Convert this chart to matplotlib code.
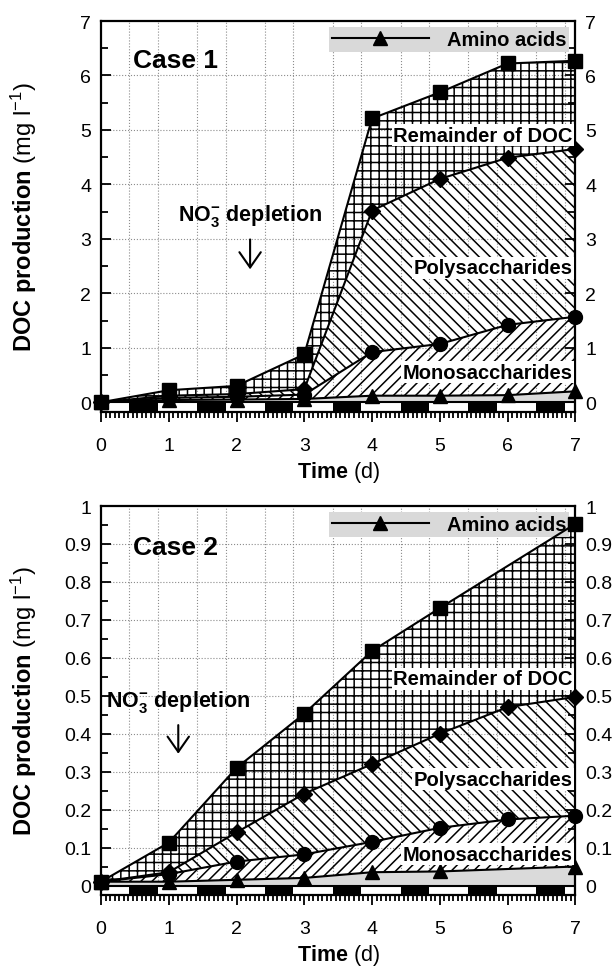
import numpy as np
import matplotlib
matplotlib.use('Agg')
import matplotlib.pyplot as plt
from matplotlib.lines import Line2D
from matplotlib.ticker import MultipleLocator

plt.rcParams['font.family'] = ['Liberation Sans', 'DejaVu Sans']
plt.rcParams['mathtext.fontset'] = 'custom'
plt.rcParams['mathtext.rm'] = 'Liberation Sans'
plt.rcParams['mathtext.bf'] = 'Liberation Sans:bold'
plt.rcParams['mathtext.it'] = 'Liberation Sans:italic'
plt.rcParams['hatch.linewidth'] = 1.1
plt.rcParams['hatch.color'] = 'black'

days = [0, 1, 2, 3, 4, 5, 6, 7]
# dark periods of the light/dark cycle (d)
night_start = [0.42, 1.42, 2.42, 3.42, 4.42, 5.42, 6.42]
night_end = [0.84, 1.84, 2.84, 3.84, 4.84, 5.84, 6.84]

# Case 1, cumulative DOC production (mg l-1)
c1_total = [0.0, 0.22, 0.30, 0.88, 5.21, 5.69, 6.22, 6.27]
c1_poly = [0.0, 0.12, 0.15, 0.24, 3.52, 4.10, 4.49, 4.65]
c1_mono = [0.0, 0.08, 0.10, 0.14, 0.92, 1.07, 1.42, 1.57]
c1_amino = [0.0, 0.04, 0.05, 0.06, 0.12, 0.12, 0.13, 0.20]
c1_yticks = [0, 1, 2, 3, 4, 5, 6, 7]
c1_yticklabels = ['0', '1', '2', '3', '4', '5', '6', '7']

# Case 2
c2_total = [0.01, 0.113, 0.31, 0.453, 0.618, 0.731, np.nan, 0.953]
c2_poly = [0.01, 0.035, 0.14, 0.242, 0.32, 0.40, 0.47, 0.497]
c2_mono = [0.01, 0.03, 0.063, 0.082, 0.115, 0.152, 0.174, 0.184]
c2_amino = [0.01, 0.01, 0.015, 0.02, 0.035, 0.037, np.nan, 0.05]
c2_yticks = [0, 0.1, 0.2, 0.3, 0.4, 0.5, 0.6, 0.7, 0.8, 0.9, 1.0]
c2_yticklabels = ['0', '0.1', '0.2', '0.3', '0.4', '0.5', '0.6', '0.7', '0.8', '0.9', '1']


def valid(x, y):
    x = np.asarray(x, float)
    y = np.asarray(y, float)
    m = ~np.isnan(y)
    return x[m], y[m]


def band(ax, upper, lower, **kw):
    xu, yu = valid(days, upper)
    xl, yl = valid(days, lower)
    ax.fill(np.concatenate([xu, xl[::-1]]), np.concatenate([yu, yl[::-1]]),
            linewidth=0, **kw)


def series(ax, y, marker, ms):
    x, yv = valid(days, y)
    ax.plot(x, yv, color='black', lw=1.5, marker=marker, ms=ms,
            markerfacecolor='black', markeredgecolor='black', zorder=4,
            clip_on=False)


def panel(ax, total, poly, mono, amino, ylow, ymax, yticks, yticklabels,
          yminor, case, case_y, no3_x, no3_y, arrow_top, arrow_bot,
          rem_y, poly_y, mono_y):
    zero = [0.0] * len(days)
    ax.set_xlim(0, 7)
    ax.set_ylim(ylow, ymax)

    # grid
    for v in night_start + night_end:
        ax.axvline(v, ls=':', color='0.55', lw=0.8, zorder=0.5)
    for v in yticks[1:-1]:
        ax.axhline(v, ls=':', color='0.55', lw=0.8, zorder=0.5)

    # stacked fractions
    band(ax, amino, zero, facecolor='#dadada', edgecolor='#dadada', zorder=1)
    band(ax, mono, amino, facecolor='none', edgecolor='black', hatch='///', zorder=1)
    band(ax, poly, mono, facecolor='none', edgecolor='black', hatch='\\\\\\', zorder=1)
    band(ax, total, poly, facecolor='none', edgecolor='black', hatch='++', zorder=1)

    # light/dark bar
    ax.fill_between([0, 7], ylow, 0, color='white', lw=0, zorder=2)
    for s, e in zip(night_start, night_end):
        ax.fill_between([s, e], ylow, 0, color='black', lw=0, zorder=2.1)
    ax.axhline(0, color='black', lw=1.5, zorder=2.2)

    series(ax, amino, '^', 9.5)
    series(ax, mono, 'o', 10)
    series(ax, poly, 'D', 8.5)
    series(ax, total, 's', 10)

    lab = dict(ha='right', va='center', fontsize=14.5, fontweight='bold', zorder=5,
               bbox=dict(facecolor='white', edgecolor='none', pad=1.0))
    ax.text(6.96, rem_y, 'Remainder of DOC', **lab)
    ax.text(6.96, poly_y, 'Polysaccharides', **lab)
    ax.text(6.96, mono_y, 'Monosaccharides', **lab)

    ax.text(0.47, case_y, case, ha='left', va='center', fontsize=19,
            fontweight='bold')
    ax.text(no3_x, no3_y, r'$\mathbf{NO_3^{-}\ depletion}$', ha='center',
            va='center', fontsize=15.5)
    ax.annotate('', xy=(no3_x, arrow_bot), xytext=(no3_x, arrow_top),
                arrowprops=dict(arrowstyle='->, head_length=0.5, head_width=0.35',
                                lw=1.5, color='black', mutation_scale=22))

    h = Line2D([], [], color='black', lw=1.5, marker='^', ms=10)
    leg = ax.legend([h], ['Amino acids'], loc='upper right', frameon=True,
                    facecolor='#d9d9d9', edgecolor='none', framealpha=1,
                    fancybox=False, prop={'weight': 'bold', 'size': 14.5},
                    handlelength=4.8, handletextpad=0.9, borderaxespad=0.3,
                    borderpad=0.15, numpoints=1)
    leg.set_zorder(3)

    ax.set_yticks(yticks)
    ax.set_yticklabels(yticklabels)
    ax.yaxis.set_minor_locator(MultipleLocator(yminor))
    ax.xaxis.set_major_locator(MultipleLocator(1))
    ax.xaxis.set_minor_locator(MultipleLocator(1 / 15))
    ax.tick_params(axis='x', which='both', direction='out', top=False,
                   labelsize=14, pad=11, width=1.3)
    ax.tick_params(axis='x', which='major', length=7)
    ax.tick_params(axis='x', which='minor', length=4.5)
    ax.tick_params(axis='y', which='both', direction='in', left=True, right=True,
                   labelleft=True, labelright=True, labelsize=14, pad=7, width=1.3)
    ax.tick_params(axis='y', which='major', length=7)
    ax.tick_params(axis='y', which='minor', length=5)
    for sp in ax.spines.values():
        sp.set_linewidth(1.6)

    ax.set_ylabel(r'$\mathbf{DOC\ production}$ (mg l$^{-1}$)', fontsize=17)
    ax.yaxis.set_label_coords(-0.13, 0.5)
    ax.set_xlabel(r'$\mathbf{Time}$ (d)', fontsize=15.5)
    ax.xaxis.set_label_coords(0.5, -0.12)


fig = plt.figure(figsize=(6.16, 9.70), dpi=100)
ax1 = fig.add_axes([0.164, 0.5742, 0.770, 0.4031])
ax2 = fig.add_axes([0.164, 0.0763, 0.770, 0.4010])

panel(ax1, c1_total, c1_poly, c1_mono, c1_amino, -0.18, 7, c1_yticks,
      c1_yticklabels, 0.5, 'Case 1', 6.28, 2.2, 3.43, 3.04, 2.39,
      4.9, 2.47, 0.55)
panel(ax2, c2_total, c2_poly, c2_mono, c2_amino, -0.025, 1.0, c2_yticks,
      c2_yticklabels, 0.05, 'Case 2', 0.892, 1.14, 0.487, 0.43, 0.34,
      0.545, 0.28, 0.082)

fig.savefig('out.png', dpi=100)
